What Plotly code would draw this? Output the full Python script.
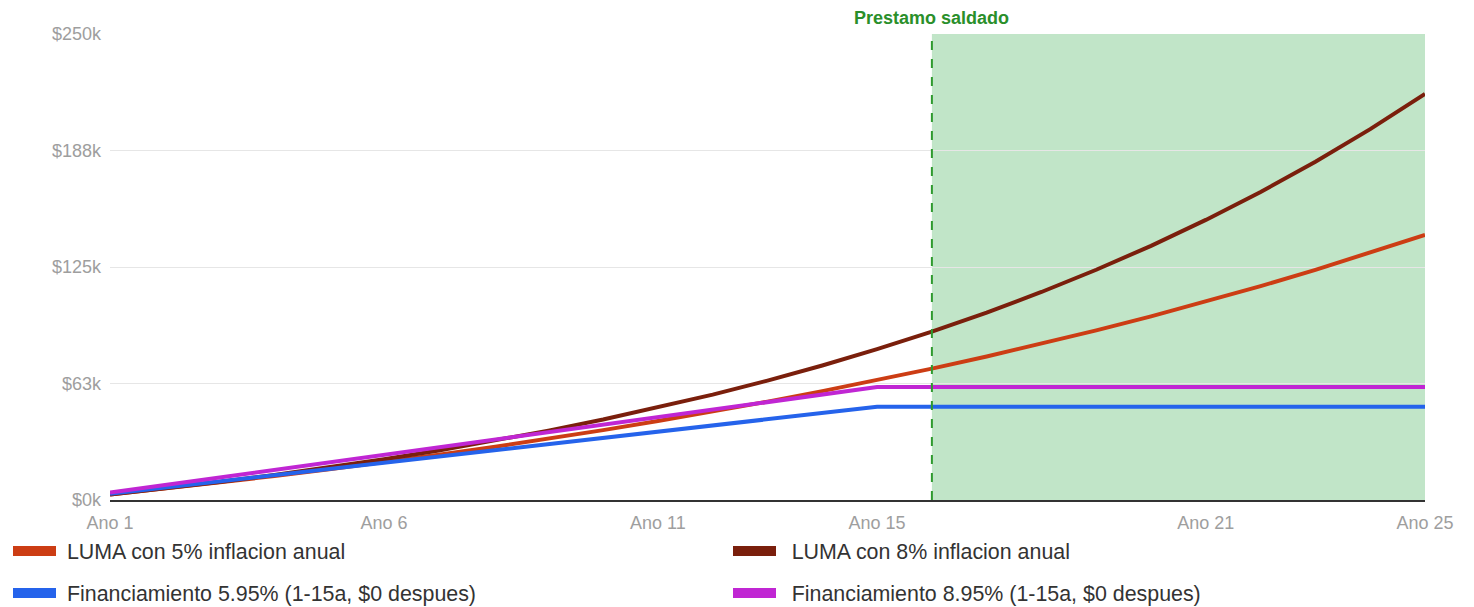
import plotly.graph_objects as go

years = list(range(1, 26))

luma_5 = [2.98, 6.11, 9.39, 12.84, 16.47, 20.27, 24.26, 28.46, 32.86, 37.48,
          42.34, 47.43, 52.78, 58.40, 64.30, 70.50, 77.00, 83.83, 91.01, 98.54,
          106.44, 114.75, 123.46, 132.62, 142.23]
luma_8 = [2.98, 6.20, 9.67, 13.43, 17.48, 21.86, 26.59, 31.70, 37.21, 43.17,
          49.60, 56.55, 64.06, 72.16, 80.91, 90.37, 100.58, 111.60, 123.51, 136.37,
          150.26, 165.26, 181.46, 198.96, 217.86]
fin_595 = [3.33, 6.67, 10.00, 13.33, 16.67, 20.00, 23.33, 26.67, 30.00, 33.33,
           36.67, 40.00, 43.33, 46.67, 50.00, 50.00, 50.00, 50.00, 50.00, 50.00,
           50.00, 50.00, 50.00, 50.00, 50.00]
fin_895 = [4.04, 8.08, 12.12, 16.16, 20.20, 24.24, 28.28, 32.32, 36.36, 40.40,
           44.44, 48.48, 52.52, 56.56, 60.60, 60.60, 60.60, 60.60, 60.60, 60.60,
           60.60, 60.60, 60.60, 60.60, 60.60]

series_names = ["LUMA con 5% inflacion anual", "LUMA con 8% inflacion anual",
                "Financiamiento 5.95% (1-15a, $0 despues)",
                "Financiamiento 8.95% (1-15a, $0 despues)"]
series_values = [luma_5, luma_8, fin_595, fin_895]
series_colors = ["#cc3d14", "#7a1f0c", "#2563eb", "#c026d3"]

x_tick_vals = [1, 6, 11, 15, 21, 25]
x_tick_text = ["Ano 1", "Ano 6", "Ano 11", "Ano 15", "Ano 21", "Ano 25"]
y_tick_vals = [0, 62.5, 125, 187.5, 250]
y_tick_text = ["$0k", "$63k", "$125k", "$188k", "$250k"]

payoff_year = 16
last_year = 25

W, H = 1466, 599

fig = go.Figure()
for name, vals, col in zip(series_names, series_values, series_colors):
    fig.add_trace(go.Scatter(x=years, y=vals, mode="lines", name=name,
                             line=dict(color=col, width=4), showlegend=False,
                             hoverinfo="skip"))

# legend placement: (legend id, x px, y px, gap char) in figure coords
legend_slots = [("legend", 0, 543, "\u00a0"), ("legend2", 720, 543, "\u2002"),
                ("legend3", 0, 585, "\u00a0"), ("legend4", 720, 585, "\u2002")]
for name, col, (lid, lx, ly, gap) in zip(series_names, series_colors, legend_slots):
    fig.add_trace(go.Scatter(x=[None], y=[None], mode="lines", name=gap + name,
                             line=dict(color=col, width=10), showlegend=True,
                             legend=lid))

legend_common = dict(xref="container", yref="container", xanchor="left",
                     yanchor="middle", orientation="v",
                     font=dict(family="Liberation Sans, Arial", size=21.4, color="#333333"),
                     itemwidth=43, bgcolor="rgba(0,0,0,0)", borderwidth=0)
legend_layout = {}
for lid, lx, ly, gap in legend_slots:
    legend_layout[lid] = dict(x=lx / W, y=1 - ly / H, **legend_common)

fig.add_shape(type="rect", xref="x", yref="y", x0=payoff_year, x1=last_year,
              y0=0, y1=250, fillcolor="#c1e5c8", line=dict(width=0), layer="below")
fig.add_shape(type="line", xref="x", yref="y", x0=payoff_year, x1=payoff_year,
              y0=0, y1=250, line=dict(color="#2e9a2e", width=2, dash="dash"))
fig.add_annotation(x=payoff_year, y=1, xref="x", yref="paper", yanchor="bottom",
                   text="<b>Prestamo saldado</b>", showarrow=False, yshift=4,
                   font=dict(family="Liberation Sans, Arial", size=18, color="#2a8f2a"))

fig.update_layout(
    width=W, height=H,
    margin=dict(l=102, r=49, t=26, b=107, autoexpand=False),
    plot_bgcolor="white", paper_bgcolor="white",
    font=dict(family="Liberation Sans, Arial", color="#999999", size=18),
    xaxis=dict(range=[1, 25], tickvals=x_tick_vals, ticktext=x_tick_text,
               showgrid=False, zeroline=False, showline=True, linecolor="#333333",
               linewidth=2, ticks="", ticklabelstandoff=5, tickangle=0,
               tickfont=dict(size=18, color="#9e9e9e")),
    yaxis=dict(range=[0, 250], tickvals=y_tick_vals, ticktext=y_tick_text,
               showgrid=True, gridcolor="#e6e6e6", gridwidth=1, zeroline=False,
               showline=False, ticks="", ticklabelstandoff=8,
               tickfont=dict(size=18, color="#9e9e9e")),
    **legend_layout,
)

fig.write_html("out.html")
